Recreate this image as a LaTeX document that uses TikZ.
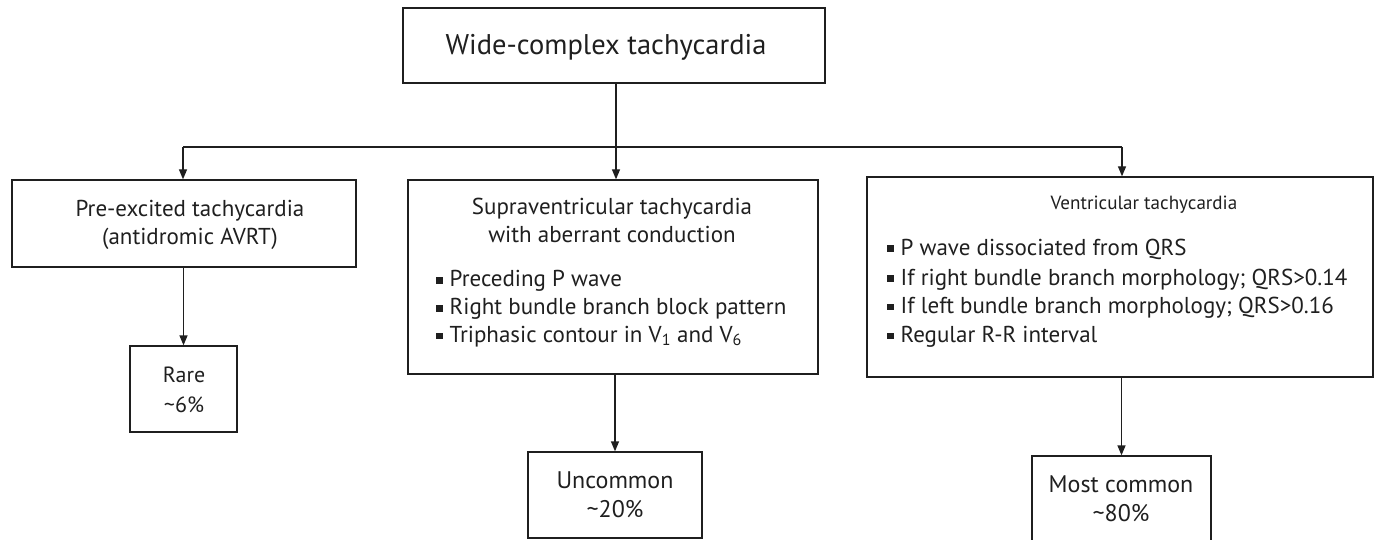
\documentclass[tikz,border=0pt]{standalone}
\usepackage{fontspec}
\setmainfont{PT Sans}
\usetikzlibrary{arrows.meta}
\newcommand\bsq{\rule[3pt]{6.5pt}{6.5pt}\hspace{7pt}}
\begin{document}
\begin{tikzpicture}[x=1pt,y=-1pt,
  box/.style={draw=black!88, line width=1.3pt, inner sep=0pt},
  txt/.style={anchor=base, inner sep=0pt, font=\fontsize{23}{28}\selectfont, text=black!88},
  ltxt/.style={txt, anchor=base west},
  big/.style={font=\fontsize{24}{28}\selectfont},
  conn/.style={line width=1.3pt, draw=black!88},
  arr/.style={conn, -{Triangle[width=8pt,length=10pt]}}
]
\useasboundingbox (0,0) rectangle (1379,540);
\clip (0,0) rectangle (1379,540);

% boxes
\node[box, minimum width=422pt, minimum height=75pt] (top) at (614,45.5) {};
\node[box, minimum width=344pt, minimum height=87pt] (pre) at (184,223.5) {};
\node[box, minimum width=107pt, minimum height=86pt] (rare) at (183.5,389) {};
\node[box, minimum width=410pt, minimum height=194pt] (svt) at (613,277) {};
\node[box, minimum width=174pt, minimum height=86pt] (unc) at (615,495) {};
\node[box, minimum width=506pt, minimum height=200pt] (vt) at (1120,277) {};
\node[box, minimum width=179pt, minimum height=86pt] (most) at (1121.5,499) {};

% texts
\node[txt, font=\fontsize{28.5}{34}\selectfont] (ttl) at (606,55) {Wide-complex tachycardia};

\node[txt] (pre1) at (190,217) {Pre-excited tachycardia};
\node[txt] (pre2) at (190,245) {(antidromic AVRT)};

\node[txt, font=\fontsize{22}{28}\selectfont] (rare1) at (184,382) {Rare};
\node[txt, font=\fontsize{22}{28}\selectfont] (rare2) at (184,412) {\textasciitilde 6\%};

\node[txt] (svt1) at (612,215) {Supraventricular tachycardia};
\node[txt] (svt2) at (612,243) {with aberrant conduction};
\node[ltxt] (svtb1) at (436,287) {\bsq Preceding P wave};
\node[ltxt] (svtb2) at (436,314.5) {\bsq Right bundle branch block pattern};
\node[ltxt] (svtb3) at (436,342) {\bsq Triphasic contour in V\textsubscript{1} and V\textsubscript{6}};

\node[txt, big] (unc1) at (615,488) {Uncommon};
\node[txt, big] (unc2) at (615,517) {\textasciitilde 20\%};

\node[txt, transform shape, scale=0.83] (vt1) at (1144,210) {Ventricular tachycardia};
\node[ltxt] (vtb1) at (887,255) {\bsq P wave dissociated from QRS};
\node[ltxt] (vtb2) at (887,285) {\bsq If right bundle branch morphology; QRS>0.14};
\node[ltxt] (vtb3) at (887,313) {\bsq If left bundle branch morphology; QRS>0.16};
\node[ltxt] (vtb4) at (887,342) {\bsq Regular R-R interval};

\node[txt, big] (most1) at (1121,492) {Most common};
\node[txt, big] (most2) at (1121,521) {\textasciitilde 80\%};

% connectors
\coordinate (j) at (616,147);
\coordinate (jl) at (183,147);
\coordinate (jr) at (1122,147);
\draw[conn] (j |- top.south) -- (j);
\draw[conn] (jl) -- (jr);
\draw[arr] (jl) -- (jl |- pre.north);
\draw[arr] (j) -- (j |- svt.north);
\draw[arr] (jr) -- (jr |- vt.north);
\draw[arr] (rare.north |- pre.south) -- (rare.north);
\draw[arr] (unc.north |- svt.south) -- (unc.north);
\draw[arr] (most.north |- vt.south) -- (most.north);
\end{tikzpicture}
\end{document}
